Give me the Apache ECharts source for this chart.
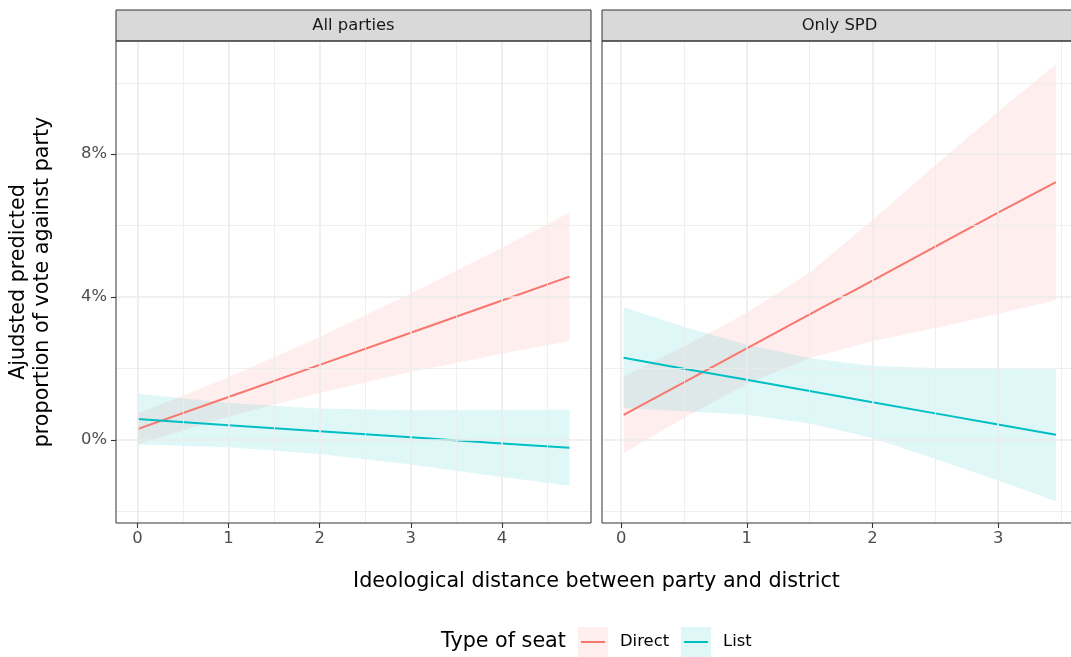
<!DOCTYPE html>
<html>
<head>
<meta charset="utf-8">
<script src="https://cdn.jsdelivr.net/npm/echarts@6/dist/echarts.min.js"></script>
<style>
html, body { margin: 0; padding: 0; background: #fff; }
#chart { width: 1071px; height: 657px; }
</style>
</head>
<body>
<div id="chart"></div>
<script>
// 面板名称
const panelNames = ['All parties', 'Only SPD'];
const seatTypes = ['Direct', 'List'];

// 左面板 All parties
const leftX = [0, 1, 2, 3, 4, 4.74];
const leftDirect = [0.30, 1.20, 2.10, 3.00, 3.90, 4.57];
const leftDirectLo = [-0.13, 0.65, 1.32, 1.90, 2.42, 2.77];
const leftDirectHi = [0.73, 1.75, 2.88, 4.10, 5.38, 6.37];
const leftList = [0.58, 0.41, 0.24, 0.07, -0.10, -0.22];
const leftListLo = [-0.13, -0.21, -0.40, -0.69, -1.04, -1.29];
const leftListHi = [1.29, 1.03, 0.88, 0.83, 0.84, 0.85];

// 右面板 Only SPD
const rightX = [0.02, 0.5, 1, 1.5, 2, 2.5, 3, 3.46];
const rightDirect = [0.70, 1.61, 2.56, 3.51, 4.46, 5.41, 6.36, 7.22];
const rightDirectLo = [-0.37, 0.61, 1.56, 2.29, 2.76, 3.13, 3.53, 3.91];
const rightDirectHi = [1.77, 2.61, 3.56, 4.68, 6.16, 7.69, 9.19, 10.52];
const rightList = [2.30, 1.99, 1.68, 1.37, 1.05, 0.74, 0.43, 0.14];
const rightListLo = [0.89, 0.80, 0.70, 0.46, 0.05, -0.54, -1.14, -1.72];
const rightListHi = [3.71, 3.17, 2.66, 2.29, 2.07, 2.01, 1.99, 1.98];

// 刻度
const yTicks = [0, 4, 8];
const yMinor = [-2, 2, 6, 10];
const leftXTicks = [0, 1, 2, 3, 4];
const leftXMinor = [0.5, 1.5, 2.5, 3.5, 4.5];
const rightXTicks = [0, 1, 2, 3];
const rightXMinor = [0.5, 1.5, 2.5, 3.5];

const colors = { Direct: '#F8766D', List: '#00BFC4' };
const fills = { Direct: 'rgba(248,118,109,0.12)', List: 'rgba(0,191,196,0.12)' };
const font = 'DejaVu Sans';
const smallSize = 16.4;
const titleSize = 20.7;

const panels = [
    { x: leftX, Direct: [leftDirect, leftDirectLo, leftDirectHi], List: [leftList, leftListLo, leftListHi], ticks: leftXTicks, minor: leftXMinor },
    { x: rightX, Direct: [rightDirect, rightDirectLo, rightDirectHi], List: [rightList, rightListLo, rightListHi], ticks: rightXTicks, minor: rightXMinor }
];

// 面板位置 (右面板被图片右边裁掉一点)
const gridTop = 41, gridH = 482, gridW = 475;
const gridLeft = [116, 602];
const gridWidth = [475, 469];

function pairs(xs, ys) {
    return xs.map(function (x, i) { return [x, ys[i]]; });
}

// 置信带用多边形画
function bandRender(color) {
    return function (params, api) {
        if (params.dataIndex !== 0) return null;
        let n = params.dataInsideLength;
        let top = [], bottom = [];
        for (let i = 0; i < n; i++) {
            top.push(api.coord([api.value(0, i), api.value(2, i)]));
            bottom.unshift(api.coord([api.value(0, i), api.value(1, i)]));
        }
        return { type: 'polygon', shape: { points: top.concat(bottom) }, style: { fill: color }, silent: true };
    };
}

let series = [];
panels.forEach(function (p, pi) {
    // 网格线
    let lines = [];
    p.minor.forEach(function (v) { lines.push({ xAxis: v, lineStyle: { color: '#ebebeb', width: 0.8, type: 'solid' } }); });
    yMinor.forEach(function (v) { lines.push({ yAxis: v, lineStyle: { color: '#ebebeb', width: 0.8, type: 'solid' } }); });
    p.ticks.forEach(function (v) { lines.push({ xAxis: v, lineStyle: { color: '#ebebeb', width: 1.6, type: 'solid' } }); });
    yTicks.forEach(function (v) { lines.push({ yAxis: v, lineStyle: { color: '#ebebeb', width: 1.6, type: 'solid' } }); });
    series.push({
        type: 'line', xAxisIndex: pi, yAxisIndex: pi, z: 1, silent: true,
        data: pairs(p.x, p.Direct[0]), symbol: 'none', lineStyle: { opacity: 0 },
        markLine: { silent: true, symbol: ['none', 'none'], label: { show: false }, animation: false, data: lines }
    });
    // 置信区间
    seatTypes.forEach(function (s) {
        let lo = p[s][1], hi = p[s][2];
        series.push({
            type: 'custom', xAxisIndex: pi, yAxisIndex: pi, z: 2, silent: true,
            renderItem: bandRender(fills[s]),
            encode: { x: 0, y: [1, 2] },
            data: p.x.map(function (x, i) { return [x, lo[i], hi[i]]; })
        });
    });
    seatTypes.forEach(function (s) {
        series.push({
            name: s, type: 'line', xAxisIndex: pi, yAxisIndex: pi, z: 3,
            symbol: 'none', lineStyle: { color: colors[s], width: 2 },
            data: pairs(p.x, p[s][0])
        });
    });
});

function xAxisFor(pi, min, max) {
    return {
        type: 'value', gridIndex: pi, min: min, max: max,
        splitLine: { show: false }, axisLine: { show: false, onZero: false },
        axisTick: { show: true, length: 5, customValues: panels[pi].ticks, lineStyle: { color: '#333333', width: 1.1 } },
        axisLabel: { customValues: panels[pi].ticks, margin: 8, color: '#4d4d4d', fontSize: smallSize, fontFamily: font, formatter: function (v) { return String(v); } }
    };
}

function yAxisFor(pi) {
    return {
        type: 'value', gridIndex: pi, min: -2.33, max: 11.17,
        splitLine: { show: false }, axisLine: { show: false, onZero: false },
        axisTick: { show: pi === 0, length: 5, customValues: yTicks, lineStyle: { color: '#333333', width: 1.1 } },
        axisLabel: { show: pi === 0, customValues: yTicks, margin: 9, color: '#4d4d4d', fontSize: smallSize, fontFamily: font, formatter: function (v) { return v + '%'; } }
    };
}

let graphics = [];
gridLeft.forEach(function (gl, pi) {
    // 分面标题条
    graphics.push({ type: 'rect', z: 100, shape: { x: gl, y: 10, width: gridW, height: gridTop - 10 }, style: { fill: '#d9d9d9', stroke: '#333333', lineWidth: 1 } });
    graphics.push({ type: 'text', z: 101, x: gl + gridW / 2, y: 26, style: { text: panelNames[pi], font: smallSize + 'px "DejaVu Sans"', fill: '#1a1a1a', textAlign: 'center', textVerticalAlign: 'middle' } });
    // 面板边框
    graphics.push({ type: 'rect', z: 100, silent: true, shape: { x: gl, y: gridTop, width: gridW, height: gridH }, style: { fill: 'none', stroke: '#333333', lineWidth: 1 } });
});

// 坐标轴标题
graphics.push({ type: 'text', x: 596.5, y: 582, style: { text: 'Ideological distance between party and district', font: titleSize + 'px "DejaVu Sans"', fill: '#000', textAlign: 'center', textVerticalAlign: 'middle' } });
graphics.push({ type: 'text', x: 31, y: 282, rotation: Math.PI / 2, style: { text: 'Ajudsted predicted\nproportion of vote against party', font: titleSize + 'px "DejaVu Sans"', lineHeight: 24, fill: '#000', textAlign: 'center', textVerticalAlign: 'middle' } });

// 图例
graphics.push({ type: 'text', x: 441, y: 642, style: { text: 'Type of seat', font: titleSize + 'px "DejaVu Sans"', fill: '#000', textAlign: 'left', textVerticalAlign: 'middle' } });
let keyX = [578, 681];
let labelX = [620, 723];
seatTypes.forEach(function (s, i) {
    graphics.push({ type: 'rect', shape: { x: keyX[i], y: 627, width: 30, height: 30 }, style: { fill: fills[s] } });
    graphics.push({ type: 'line', shape: { x1: keyX[i] + 3, y1: 642, x2: keyX[i] + 27, y2: 642 }, style: { stroke: colors[s], lineWidth: 2 } });
    graphics.push({ type: 'text', x: labelX[i], y: 642, style: { text: s, font: smallSize + 'px "DejaVu Sans"', fill: '#000', textAlign: 'left', textVerticalAlign: 'middle' } });
});

let chart = echarts.init(document.getElementById('chart'), null, { renderer: 'canvas' });
chart.setOption({
    animation: false,
    backgroundColor: '#ffffff',
    textStyle: { fontFamily: font },
    grid: gridLeft.map(function (gl, i) {
        return { left: gl, top: gridTop, width: gridWidth[i], height: gridH, containLabel: false };
    }),
    xAxis: [xAxisFor(0, -0.235, 4.977), xAxisFor(1, -0.152, 3.58)],
    yAxis: [yAxisFor(0), yAxisFor(1)],
    series: series,
    graphic: graphics
});
</script>
</body>
</html>
